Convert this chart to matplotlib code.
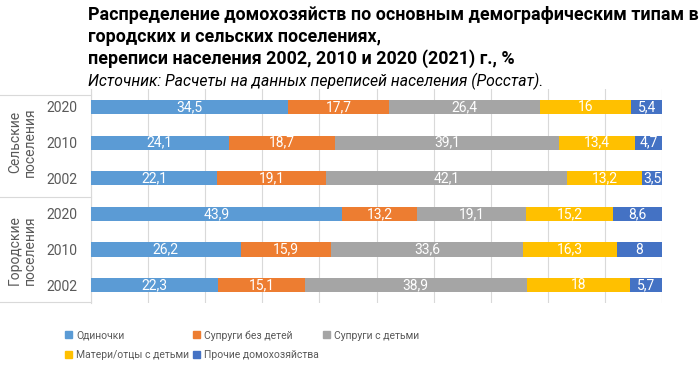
import matplotlib.pyplot as plt
from matplotlib.patches import Patch

plt.rcParams['font.family'] = ['Roboto', 'DejaVu Sans']

# Data (top row first)
years = ["2020", "2010", "2002", "2020", "2010", "2002"]
groups = ["Сельские\nпоселения", "Городские\nпоселения"]
series = ["Одиночки", "Супруги без детей", "Супруги с детьми",
          "Матери/отцы с детьми", "Прочие домохозяйства"]
singles = [34.5, 24.1, 22.1, 43.9, 26.2, 22.3]
couples_no_kids = [17.7, 18.7, 19.1, 13.2, 15.9, 15.1]
couples_kids = [26.4, 39.1, 42.1, 19.1, 33.6, 38.9]
single_parents = [16, 13.4, 13.2, 15.2, 16.3, 18]
other = [5.4, 4.7, 3.5, 8.6, 8, 5.7]

colors = ["#5B9BD5", "#ED7D31", "#A5A5A5", "#FFC000", "#4472C4"]
values = [singles, couples_no_kids, couples_kids, single_parents, other]

fig = plt.figure(figsize=(7, 3.7), dpi=100)
ax = fig.add_axes([0.13, 0.181, 0.816, 0.578])

ypos = list(range(len(years)))[::-1]
left = [0.0] * len(years)
for name, vals, col in zip(series, values, colors):
    ax.barh(ypos, vals, left=left, height=0.4, color=col, label=name, zorder=3)
    for y, l, v in zip(ypos, left, vals):
        ax.text(l + v / 2, y, f"{v:g}".replace(".", ","), ha="center", va="center",
                color="white", fontsize=10, zorder=4)
    left = [a + b for a, b in zip(left, vals)]

ax.set_xlim(0, 100)
ax.set_ylim(-0.5, 5.5)
ax.set_xticks(range(0, 101, 10))
ax.set_xticklabels([])
ax.tick_params(axis="x", length=0)
ax.grid(axis="x", color="#D9D9D9", linewidth=0.8, zorder=0)
ax.set_yticks(ypos)
ax.set_yticklabels(years, fontsize=10, color="#595959")
ax.tick_params(axis="y", length=0, pad=10)
for s in ["top", "right", "bottom"]:
    ax.spines[s].set_visible(False)
ax.spines["left"].set_color("#D9D9D9")

# group label boxes
for yline in [95, 197, 302]:
    fig.add_artist(plt.Line2D([0, 91 / 700], [1 - yline / 370] * 2,
                              color="#D9D9D9", linewidth=0.8))
fig.text(0.032, 1 - 142 / 370, groups[0], rotation=90, ha="center", va="center",
         fontsize=10, color="#595959", linespacing=1.1)
fig.text(0.032, 1 - 250 / 370, groups[1], rotation=90, ha="center", va="center",
         fontsize=10, color="#595959", linespacing=1.1)

# titles
title_lines = ["Распределение домохозяйств по основным демографическим типам в",
               "городских и сельских поселениях,",
               "переписи населения 2002, 2010 и 2020 (2021) г., %"]
for i, t in enumerate(title_lines):
    fig.text(0.126, 1 - (15 + 22 * i) / 370, t, fontsize=12.85, fontweight="bold",
             ha="left", va="center", color="black")
fig.text(0.126, 1 - 81 / 370, "Источник: Расчеты на данных переписей населения (Росстат).",
         fontsize=11.3, style="italic", ha="left", va="center", color="black")

handles = [Patch(color=c) for c in colors]
order = [0, 3, 1, 4, 2]
fig.legend([handles[i] for i in order], [series[i] for i in order],
           loc="center left", bbox_to_anchor=(0.08, 1 - 345 / 370), ncol=3,
           frameon=False, fontsize=7.5, labelcolor="#595959",
           handlelength=0.65, handleheight=0.65, handletextpad=0.4,
           columnspacing=0.4, labelspacing=0.9)

fig.savefig("out.png", dpi=100)
